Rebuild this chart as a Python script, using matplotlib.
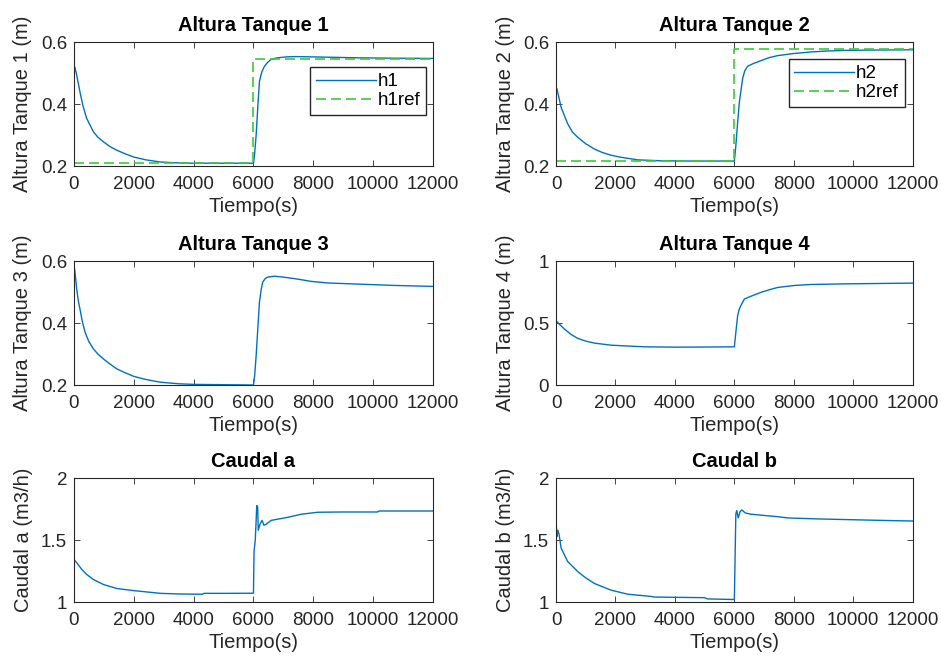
import matplotlib
matplotlib.use('Agg')
import matplotlib.pyplot as plt

plt.rcParams['font.family'] = ['Liberation Sans', 'DejaVu Sans']

# datos
t1 = [0, 30, 100, 200, 300, 425, 550, 650, 800, 990, 1200, 1435, 1700, 2000, 2400, 2890,
      3500, 4010, 5000, 6000, 6030, 6090, 6150, 6200, 6280, 6370, 6480, 6590, 6800, 7100,
      7380, 8000, 8500, 9500, 10500, 12000]
h1 = [0.505, 0.52, 0.49, 0.44, 0.395, 0.354, 0.33, 0.311, 0.293, 0.278, 0.263, 0.251, 0.24,
      0.229, 0.22, 0.213, 0.21, 0.209, 0.209, 0.209, 0.23, 0.30, 0.40, 0.474, 0.505, 0.523,
      0.536, 0.545, 0.55, 0.553, 0.554, 0.553, 0.552, 0.55, 0.549, 0.548]
tref = [0, 6000, 6000, 12000]
h1ref = [0.21, 0.21, 0.547, 0.547]

t2 = [0, 30, 170, 390, 550, 730, 1000, 1290, 1550, 1850, 2200, 2750, 3500, 4500, 6000, 6050,
      6110, 6170, 6230, 6280, 6350, 6450, 6650, 6900, 7150, 7450, 8000, 8580, 9100, 9700,
      10500, 12000]
h2 = [0.44, 0.45, 0.39, 0.337, 0.31, 0.293, 0.272, 0.255, 0.244, 0.235, 0.228, 0.22, 0.217,
      0.216, 0.216, 0.266, 0.34, 0.408, 0.45, 0.484, 0.508, 0.523, 0.532, 0.541, 0.55, 0.557,
      0.564, 0.569, 0.572, 0.574, 0.575, 0.576]
h2ref = [0.217, 0.217, 0.577, 0.577]

t3 = [0, 40, 90, 150, 200, 280, 370, 500, 650, 800, 990, 1200, 1435, 1700, 2000, 2400, 2890,
      3500, 4010, 5000, 6000, 6040, 6090, 6150, 6200, 6260, 6310, 6400, 6480, 6700, 7000,
      7380, 7700, 7940, 8500, 9620, 10740, 12000]
h3 = [0.59, 0.56, 0.511, 0.47, 0.446, 0.405, 0.371, 0.34, 0.317, 0.3, 0.284, 0.268, 0.252,
      0.24, 0.228, 0.218, 0.209, 0.204, 0.202, 0.201, 0.2, 0.23, 0.295, 0.39, 0.468, 0.51,
      0.533, 0.545, 0.549, 0.552, 0.549, 0.544, 0.539, 0.535, 0.53, 0.526, 0.522, 0.519]

t4 = [0, 100, 280, 500, 730, 1000, 1290, 1850, 2970, 4000, 5000, 6000, 6050, 6110, 6160,
      6220, 6340, 6560, 6900, 7200, 7460, 8020, 8580, 9700, 12000]
h4 = [0.52, 0.495, 0.453, 0.41, 0.377, 0.355, 0.339, 0.322, 0.309, 0.306, 0.307, 0.309,
      0.425, 0.56, 0.61, 0.642, 0.696, 0.718, 0.75, 0.772, 0.789, 0.805, 0.813, 0.818, 0.824]

ta = [0, 90, 260, 425, 650, 990, 1435, 2000, 2890, 3500, 4300, 4350, 5000, 6000, 6020, 6060,
      6090, 6110, 6140, 6160, 6220, 6290, 6350, 6430, 6590, 7150, 7600, 8160, 9000, 10150,
      10200, 12000]
qa = [1.345, 1.318, 1.264, 1.223, 1.182, 1.141, 1.109, 1.092, 1.07, 1.065, 1.063, 1.07, 1.07,
      1.071, 1.41, 1.5, 1.66, 1.78, 1.77, 1.58, 1.63, 1.66, 1.62, 1.63, 1.66, 1.685, 1.71,
      1.726, 1.728, 1.728, 1.736, 1.736]

tb = [0, 30, 60, 100, 170, 390, 730, 1000, 1290, 1850, 2410, 3200, 3300, 5000, 5100, 6000,
      6020, 6050, 6080, 6130, 6190, 6250, 6370, 6560, 7000, 7460, 7790, 8800, 10940, 12000]
qb = [1.65, 1.53, 1.58, 1.55, 1.437, 1.328, 1.246, 1.195, 1.15, 1.096, 1.063, 1.045, 1.04,
      1.035, 1.025, 1.02, 1.30, 1.71, 1.74, 1.68, 1.73, 1.745, 1.72, 1.71, 1.70, 1.69, 1.68,
      1.672, 1.66, 1.655]

xticks = [0, 2000, 4000, 6000, 8000, 10000, 12000]

azul = '#0072BD'
verde = '#3cc83c'
gris = '#262626'

fig = plt.figure(figsize=(9.41, 6.63), dpi=100)

lefts = [0.0786, 0.5909]
widths = [0.3815, 0.379]
bottoms = [0.7496, 0.4193, 0.092]
height = 0.1865

paneles = [
    (t1, h1, 'Altura Tanque 1', 'Altura Tanque 1 (m)', (0.2, 0.6), [0.2, 0.4, 0.6], h1ref, 'h1'),
    (t2, h2, 'Altura Tanque 2', 'Altura Tanque 2 (m)', (0.2, 0.6), [0.2, 0.4, 0.6], h2ref, 'h2'),
    (t3, h3, 'Altura Tanque 3', 'Altura Tanque 3 (m)', (0.2, 0.6), [0.2, 0.4, 0.6], None, None),
    (t4, h4, 'Altura Tanque 4', 'Altura Tanque 4 (m)', (0, 1), [0, 0.5, 1], None, None),
    (ta, qa, 'Caudal a', 'Caudal a (m3/h)', (1, 2), [1, 1.5, 2], None, None),
    (tb, qb, 'Caudal b', 'Caudal b (m3/h)', (1, 2), [1, 1.5, 2], None, None),
]
legpos = {'h1': (0.9805, 0.797), 'h2': (0.9776, 0.862)}

for i, (t, y, titulo, ylab, ylim, yticks, ref, nombre) in enumerate(paneles):
    fila, col = divmod(i, 2)
    ax = fig.add_axes([lefts[col], bottoms[fila], widths[col], height])
    ax.plot(t, y, color=azul, lw=1.0, label=nombre)
    if ref is not None:
        ax.plot(tref, ref, '--', color=verde, lw=1.2, dashes=(6, 3), label=nombre + 'ref')
        ax.legend(loc='upper right', bbox_to_anchor=legpos[nombre], borderaxespad=0,
                  fontsize=13.5, handlelength=3.2, handletextpad=0.1, labelspacing=0.1,
                  borderpad=0.3, fancybox=False, framealpha=1, edgecolor=gris)
    ax.set_xlim(0, 12000)
    ax.set_ylim(*ylim)
    ax.set_xticks(xticks)
    ax.set_yticks(yticks)
    ax.set_yticklabels([('%g' % v) for v in yticks])
    ax.tick_params(direction='in', top=True, right=True, length=4, width=0.6,
                   labelsize=13.5, colors=gris)
    ax.tick_params(axis='x', pad=7)
    ax.tick_params(axis='y', pad=5)
    for s in ax.spines.values():
        s.set_color(gris)
        s.set_linewidth(0.8)
    ax.set_title(titulo, fontsize=14.5, fontweight='bold', pad=8)
    ax.set_xlabel('Tiempo(s)', fontsize=14.5, color=gris, labelpad=3)
    ax.set_ylabel(ylab, fontsize=14.5, color=gris, labelpad=6)

fig.savefig('out.png', dpi=100)
